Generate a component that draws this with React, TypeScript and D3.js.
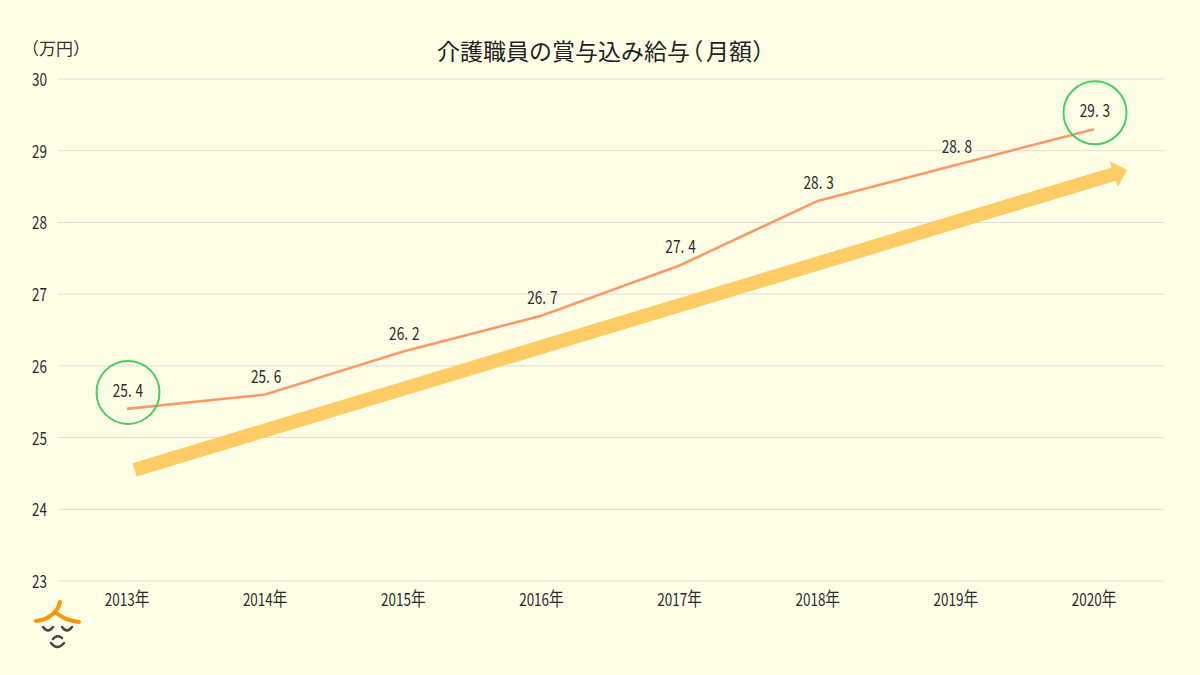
import React from "react";
import * as d3 from "d3";

const categories = ["2013", "2014", "2015", "2016", "2017", "2018", "2019", "2020"];
const values = [25.4, 25.6, 26.2, 26.7, 27.4, 28.3, 28.8, 29.3];
const yTicks = [23, 24, 25, 26, 27, 28, 29, 30];
const circled = [0, 7];
const trendFrom = [0.055, 24.55];
const trendTo = [7.24, 28.73];
const titleMain = "介護職員の賞与込み給与";
const titleOpen = "（";
const titleMonth = "月額";
const titleClose = "）";
const unit = "（万円）";

const BG = "#FFFFE8";
const JP = "'Noto Sans CJK JP',sans-serif";

const xv = d3.scaleLinear().domain([0, categories.length - 1]).range([127, 1094]);
const y = d3.scaleLinear().domain([23, 30]).range([581, 79]);

function trendArrow() {
  const x0 = xv(trendFrom[0]), y0 = y(trendFrom[1]);
  const x1 = xv(trendTo[0]), y1 = y(trendTo[1]);
  const a = Math.atan2(y1 - y0, x1 - x0);
  const hw = 7, headLen = 14, headW = 13.5;
  const ux = Math.cos(a), uy = Math.sin(a), nx = -uy, ny = ux;
  const bx = x1 - ux * headLen, by = y1 - uy * headLen;
  const p = [
    [x0 + nx * hw, y0 + ny * hw],
    [bx + nx * hw, by + ny * hw],
    [bx + nx * headW, by + ny * headW],
    [x1, y1],
    [bx - nx * headW, by - ny * headW],
    [bx - nx * hw, by - ny * hw],
    [x0 - nx * hw, y0 - ny * hw],
  ];
  return "M" + p.map((q) => q.join(",")).join("L") + "Z";
}

function Narrow({ x, y, sx, anchor, children }: any) {
  return (
    <text transform={`translate(${x},${y}) scale(${sx},1)`} textAnchor={anchor ?? "middle"}
      fontFamily={JP} fontSize={17.5} fill="#2a2a2a">{children}</text>
  );
}

const palt = { fontFeatureSettings: "'palt'" };

export default function App() {
  const line = d3.line<number>().x((_, i) => xv(i)).y((d) => y(d));
  return (
    <svg width={1200} height={675} viewBox="0 0 1200 675"
      style={{ position: "fixed", left: 0, top: 0, display: "block", background: BG }}>
      <rect width={1200} height={675} fill={BG} />
      <text x={437} y={59.5} fontFamily={JP} fontSize={23} fill="#222">
        {titleMain}<tspan dx={1} style={palt}>{titleOpen}</tspan><tspan dx={3.5}>{titleMonth}</tspan><tspan dx={1} style={palt}>{titleClose}</tspan>
      </text>
      <text x={22} y={55} fontFamily={JP} fontSize={17} fill="#333">{unit}</text>
      {yTicks.map((t) => (
        <g key={t}>
          <line x1={58} x2={1164} y1={y(t)} y2={y(t)} stroke="#DDDDDD" strokeWidth={1} />
          <Narrow x={47} y={y(t) + 7} sx={0.77} anchor="end">{t}</Narrow>
        </g>
      ))}
      {categories.map((c, i) => (
        <Narrow key={c} x={xv(i)} y={606} sx={0.77}>{c}<tspan fontSize={19}>年</tspan></Narrow>
      ))}
      <path d={trendArrow()} fill="#FFCC66" />
      <path d={line(values) ?? ""} fill="none" stroke="#FF9966" strokeWidth={2.6} />
      {values.map((v, i) => {
        const [a, b] = v.toFixed(1).split(".");
        return (
          <Narrow key={i} x={xv(i) + 1} y={y(v) - 12} sx={0.78}>
            {a}.<tspan dx={5}>{b}</tspan>
          </Narrow>
        );
      })}
      {circled.map((i) => (
        <circle key={i} cx={xv(i) + 1} cy={y(values[i]) - 16.5} r={31.5} fill="none" stroke="#44CF62" strokeWidth={2} />
      ))}
      <g fill="none" strokeLinecap="round">
        <path d="M60,602 C58,612 48,620 36,621 M55,612 C62,618 70,621 79,622" stroke="#FF9500" strokeWidth={4} />
        <path d="M43,627 Q48,634 53,627 M62,627 Q67,634 72,627" stroke="#444" strokeWidth={2.4} />
        <path d="M53,639 Q57,634 62,638 M51,643 Q57,651 64,643" stroke="#444" strokeWidth={2.4} />
      </g>
    </svg>
  );
}
